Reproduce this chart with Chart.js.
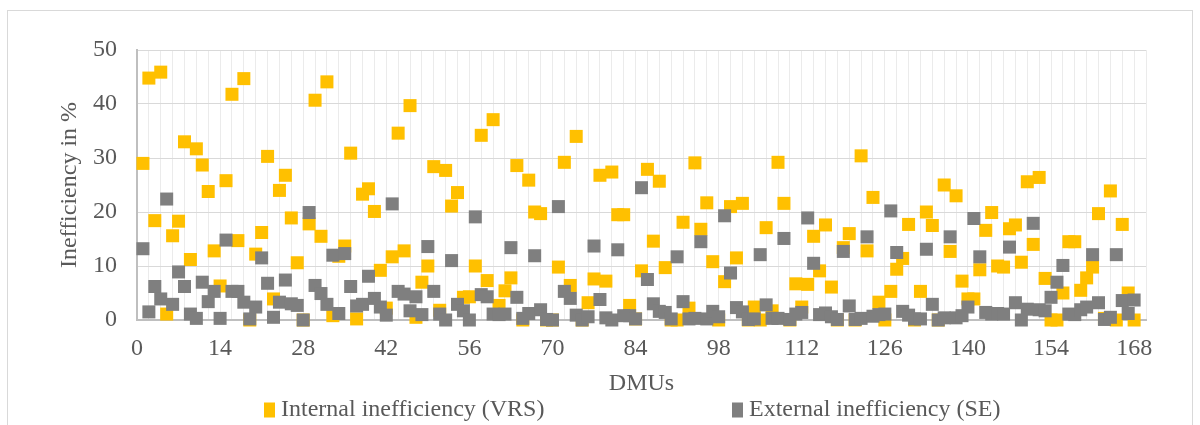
<!DOCTYPE html>
<html>
<head>
<meta charset="utf-8">
<title>Inefficiency by DMU</title>
<script src="https://cdn.jsdelivr.net/npm/chart.js@4/dist/chart.umd.min.js"></script>
<style>
  html, body { margin: 0; padding: 0; background: #ffffff; }
  #wrap { position: relative; width: 1200px; height: 425px; overflow: hidden; }
  #frame { position: absolute; left: 7px; top: 10px; width: 1186px; height: 440px;
           border: 1px solid #d9d9d9; box-sizing: border-box; }
  #c { position: absolute; left: 0; top: 0; }
</style>
</head>
<body>
<div id="wrap">
  <div id="frame"></div>
  <canvas id="c" width="1200" height="425"></canvas>
</div>
<script>
// Decision-making units 1..168
const dmus = Array.from({ length: 168 }, (_, k) => k + 1);

// Internal inefficiency (VRS), in %
const vrsInefficiency = [
  29.0, 44.8, 18.4, 45.9, 1.1, 15.6, 18.3, 33.0, 11.2, 31.7,
  28.7, 23.8, 12.8, 6.3, 25.8, 41.8, 14.7, 44.7, 0.0, 12.2,
  16.2, 30.3, 3.9, 24.0, 26.8, 18.9, 10.6, 0.0, 17.8, 40.7,
  15.5, 44.1, 0.8, 11.8, 13.7, 30.9, 0.2, 23.3, 24.3, 20.1,
  9.2, 2.2, 11.7, 34.6, 12.8, 39.7, 0.5, 7.0, 10.0, 28.4,
  1.8, 27.7, 21.1, 23.6, 4.2, 4.3, 10.0, 34.2, 7.3, 37.1,
  2.7, 5.4, 7.8, 28.6, 0.0, 25.9, 20.0, 19.7, 0.0, 0.0,
  9.8, 29.2, 6.4, 34.0, 0.0, 3.2, 7.6, 26.8, 7.2, 27.4,
  19.5, 19.5, 2.7, 0.2, 9.1, 27.9, 14.6, 25.7, 9.7, 0.0,
  0.0, 18.1, 2.2, 29.1, 16.8, 21.7, 10.8, 0.0, 7.1, 21.0,
  11.5, 21.6, 0.0, 2.4, 0.0, 17.1, 1.7, 29.2, 21.6, 0.0,
  6.7, 2.4, 6.6, 15.5, 9.1, 17.6, 6.1, 0.0, 13.4, 16.0,
  0.0, 30.4, 12.8, 22.7, 3.3, 0.0, 5.3, 9.4, 11.4, 17.7,
  0.0, 5.3, 20.0, 17.5, 0.0, 25.0, 12.7, 23.0, 7.2, 3.9,
  3.9, 9.3, 16.6, 19.9, 10.0, 9.8, 16.9, 17.6, 10.7, 25.6,
  14.0, 26.4, 7.7, 0.0, 0.0, 5.0, 14.5, 14.5, 5.5, 7.8,
  9.8, 19.7, 0.3, 23.9, 0.0, 17.7, 5.0, 0.0
];

// External inefficiency (SE), in %
const seInefficiency = [
  13.2, 1.5, 6.2, 3.9, 22.4, 2.9, 8.9, 6.2, 1.1, 0.3,
  7.0, 3.4, 5.3, 0.3, 14.8, 5.3, 5.3, 3.3, 0.2, 2.4,
  11.5, 6.8, 0.5, 3.3, 7.4, 3.0, 2.7, 0.0, 19.9, 6.4,
  4.9, 2.9, 12.0, 1.2, 12.3, 6.2, 2.6, 2.9, 8.1, 4.0,
  2.4, 0.9, 21.5, 5.3, 4.8, 1.7, 4.3, 1.0, 13.6, 5.3,
  1.1, 0.0, 11.0, 2.9, 1.7, 0.0, 19.1, 4.7, 4.3, 1.1,
  1.0, 1.1, 13.4, 4.2, 0.3, 1.2, 11.9, 1.9, 0.1, 0.0,
  21.0, 5.3, 4.0, 0.9, 0.0, 0.6, 13.7, 3.8, 0.4, 0.0,
  13.0, 0.8, 0.8, 0.2, 24.5, 7.5, 3.0, 1.6, 1.4, 0.2,
  11.7, 3.4, 0.2, 0.3, 14.5, 0.2, 1.6, 0.6, 19.3, 8.7,
  2.3, 1.5, 0.1, 0.2, 12.1, 2.8, 0.3, 0.3, 15.1, 0.1,
  1.1, 1.4, 18.9, 10.5, 1.0, 1.3, 0.6, 0.1, 12.7, 2.6,
  0.1, 0.3, 15.4, 0.7, 1.0, 1.1, 20.2, 12.5, 1.6, 0.9,
  0.2, 0.2, 13.1, 2.9, 0.0, 0.4, 15.4, 0.4, 0.8, 2.4,
  18.8, 11.7, 1.4, 1.1, 1.2, 1.1, 13.5, 3.2, 0.0, 2.0,
  17.9, 1.9, 1.7, 4.2, 7.0, 10.1, 1.1, 1.0, 1.9, 2.4,
  12.1, 3.2, 0.1, 0.5, 12.1, 3.6, 1.2, 3.7
];

// Axis tick labels
const xTickLabels = [0, 14, 28, 42, 56, 70, 84, 98, 112, 126, 140, 154, 168];
const yTickLabels = [0, 10, 20, 30, 40, 50];

const seriesNames = ['Internal inefficiency (VRS)', 'External inefficiency (SE)'];
const seriesColors = ['#FFC000', '#7F7F7F'];

const FONT = '"Liberation Serif", "Times New Roman", serif';
const FONT_SIZE = 24;
const TEXT = '#595959';

const toPoints = (vals) => vals.map((v, k) => ({ x: dmus[k], y: v }));

// Legend spread across the bottom, as two separated entries
const bottomLegend = {
  id: 'bottomLegend',
  afterDraw(chart, args, opts) {
    const ctx = chart.ctx;
    ctx.save();
    ctx.font = opts.fontSize + 'px ' + FONT;
    ctx.textBaseline = 'middle';
    ctx.textAlign = 'left';
    opts.slots.forEach((slot, k) => {
      const ds = chart.data.datasets[k];
      ctx.fillStyle = ds.backgroundColor;
      ctx.fillRect(slot.boxX, opts.y - opts.boxH / 2, opts.boxW, opts.boxH);
      ctx.fillStyle = TEXT;
      ctx.fillText(ds.label, slot.textX, opts.y);
    });
    ctx.restore();
  }
};

new Chart(document.getElementById('c'), {
  type: 'scatter',
  data: {
    datasets: [
      {
        label: seriesNames[0],
        data: toPoints(vrsInefficiency),
        backgroundColor: seriesColors[0],
        borderColor: seriesColors[0],
        borderWidth: 0,
        pointStyle: 'rect',
        pointRadius: 9.2,
        pointHoverRadius: 9.2,
        order: 2,
        clip: false
      },
      {
        label: seriesNames[1],
        data: toPoints(seInefficiency),
        backgroundColor: seriesColors[1],
        borderColor: seriesColors[1],
        borderWidth: 0,
        pointStyle: 'rect',
        pointRadius: 9.2,
        pointHoverRadius: 9.2,
        order: 1,
        clip: false
      }
    ]
  },
  options: {
    responsive: false,
    animation: false,
    devicePixelRatio: 1,
    layout: { padding: { left: 20, top: 50, right: 54, bottom: 27 } },
    plugins: {
      legend: { display: false },
      tooltip: { enabled: false },
      bottomLegend: {
        y: 410,
        fontSize: FONT_SIZE,
        boxW: 11,
        boxH: 15,
        slots: [
          { boxX: 264, textX: 281 },
          { boxX: 732, textX: 749 }
        ]
      }
    },
    scales: {
      x: {
        type: 'linear',
        min: 0,
        max: 170,
        afterFit: (s) => { s.height = 78; },
        ticks: {
          stepSize: 2,
          autoSkip: false,
          maxRotation: 0,
          minRotation: 0,
          includeBounds: false,
          padding: 14,
          color: TEXT,
          font: { family: FONT, size: FONT_SIZE },
          callback: (v) => (xTickLabels.includes(v) ? String(v) : '')
        },
        grid: { color: '#ebebeb', lineWidth: 1, drawTicks: false },
        border: { color: '#bfbfbf', width: 2 },
        title: {
          display: true,
          text: 'DMUs',
          color: TEXT,
          font: { family: FONT, size: FONT_SIZE },
          padding: { top: 0, bottom: 0 }
        }
      },
      y: {
        min: yTickLabels[0],
        max: yTickLabels[yTickLabels.length - 1],
        afterFit: (s) => { s.width = 117; },
        ticks: {
          stepSize: 10,
          padding: 20,
          color: TEXT,
          font: { family: FONT, size: FONT_SIZE },
          callback: (v) => (yTickLabels.includes(v) ? String(v) : '')
        },
        grid: { color: '#d9d9d9', lineWidth: 1, drawTicks: false },
        border: { color: '#bfbfbf', width: 2 },
        title: {
          display: true,
          text: 'Inefficiency in %',
          color: TEXT,
          font: { family: FONT, size: FONT_SIZE },
          padding: { top: 35, bottom: 0 }
        }
      }
    }
  },
  plugins: [bottomLegend]
});
</script>
</body>
</html>
